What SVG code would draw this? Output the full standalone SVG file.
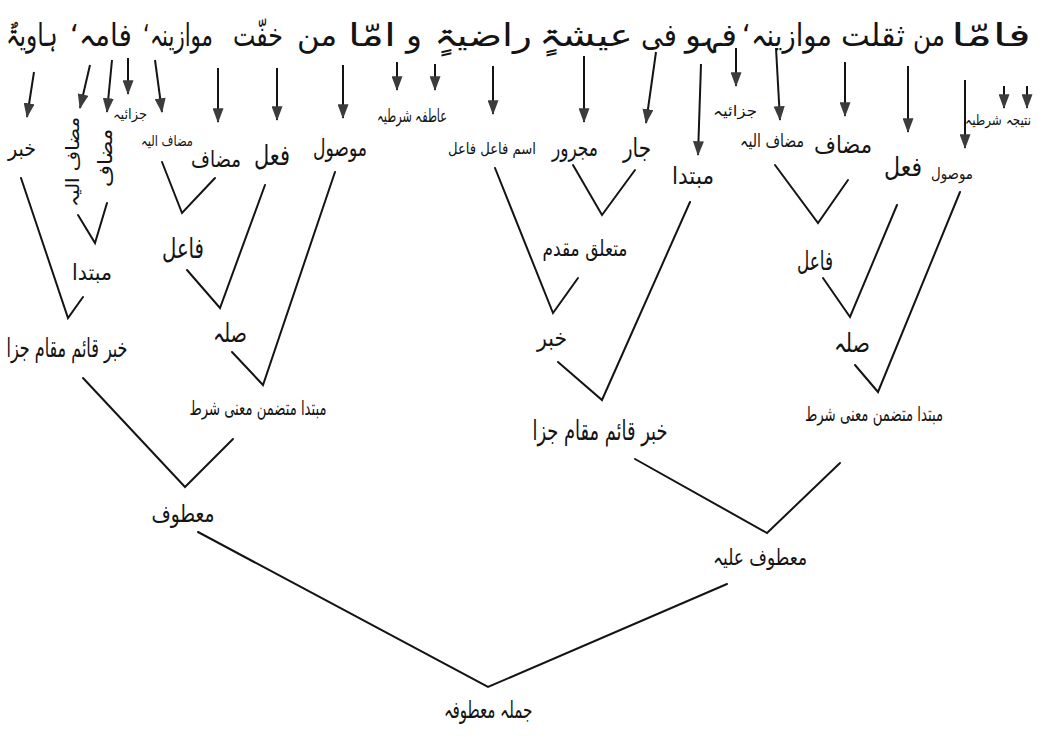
<svg xmlns="http://www.w3.org/2000/svg" width="1049" height="737" viewBox="0 0 1049 737">
<style>
.t{font-family:"DejaVu Sans","Noto Sans",sans-serif;fill:#141414;text-anchor:middle;dominant-baseline:central;direction:rtl;unicode-bidi:embed}
.w{font-size:31px}
.e{stroke:#141414;stroke-width:2;fill:none;stroke-linecap:round}
.a{stroke:#141414;stroke-width:2;fill:none;marker-end:url(#ah)}
</style>
<defs>
<marker id="ah" viewBox="0 0 16 12" refX="15" refY="6" markerWidth="15" markerHeight="11" markerUnits="userSpaceOnUse" orient="auto">
<path d="M0,0 L16,6 L0,12 z" fill="#3c3c3c"/>
</marker>
</defs>
<rect width="1049" height="737" fill="#ffffff"/>

<g id="sentence">
<text class="t w" x="991" y="35" textLength="80" lengthAdjust="spacingAndGlyphs">فامّا</text>
<text class="t w" x="929" y="35" textLength="32" lengthAdjust="spacingAndGlyphs">من</text>
<text class="t w" x="873" y="35" textLength="64" lengthAdjust="spacingAndGlyphs">ثقلت</text>
<text class="t w" x="787" y="35" textLength="90" lengthAdjust="spacingAndGlyphs">موازینہ‘</text>
<text class="t w" x="711" y="35" textLength="52" lengthAdjust="spacingAndGlyphs">فہو</text>
<text class="t w" x="659" y="35" textLength="36" lengthAdjust="spacingAndGlyphs">فی</text>
<text class="t w" x="586" y="35" textLength="94" lengthAdjust="spacingAndGlyphs">عیشۃٍ</text>
<text class="t w" x="483" y="35" textLength="98" lengthAdjust="spacingAndGlyphs">راضیۃٍ</text>
<text class="t w" x="414" y="35" textLength="16" lengthAdjust="spacingAndGlyphs">و</text>
<text class="t w" x="372" y="35" textLength="48" lengthAdjust="spacingAndGlyphs">امّا</text>
<text class="t w" x="317" y="35" textLength="40" lengthAdjust="spacingAndGlyphs" font-size="29">من</text>
<text class="t w" x="258" y="35" textLength="50" lengthAdjust="spacingAndGlyphs" font-size="24">خفّت</text>
<text class="t w" x="178" y="35" textLength="70" lengthAdjust="spacingAndGlyphs" font-size="25">موازینہ‘</text>
<text class="t w" x="101" y="35" textLength="62" lengthAdjust="spacingAndGlyphs">فامہ‘</text>
<text class="t w" x="32" y="35" textLength="52" lengthAdjust="spacingAndGlyphs">ہاویۃٌ</text>
</g>

<g id="connectors">
<line class="a" x1="34" y1="72" x2="27" y2="117"/>
<line class="a" x1="90" y1="65" x2="80" y2="108"/>
<line class="a" x1="112" y1="60" x2="107" y2="112"/>
<line class="a" x1="128" y1="58" x2="128" y2="94"/>
<line class="a" x1="155" y1="60" x2="162" y2="112"/>
<line class="a" x1="218" y1="68" x2="218" y2="122"/>
<line class="a" x1="277" y1="68" x2="277" y2="120"/>
<line class="a" x1="343" y1="65" x2="343" y2="118"/>
<line class="a" x1="397" y1="62" x2="397" y2="90"/>
<line class="a" x1="435" y1="64" x2="435" y2="90"/>
<line class="a" x1="493" y1="66" x2="493" y2="114"/>
<line class="a" x1="584" y1="56" x2="584" y2="122"/>
<line class="a" x1="656" y1="52" x2="646" y2="123"/>
<line class="a" x1="701" y1="64" x2="698" y2="155"/>
<line class="a" x1="736" y1="48" x2="736" y2="86"/>
<line class="a" x1="776" y1="48" x2="780" y2="120"/>
<line class="a" x1="845" y1="62" x2="845" y2="116"/>
<line class="a" x1="908" y1="66" x2="908" y2="132"/>
<line class="a" x1="965" y1="80" x2="965" y2="148"/>
<line class="a" x1="1004" y1="86" x2="1004" y2="108"/>
<line class="a" x1="1027" y1="86" x2="1027" y2="108"/>

<polyline class="e" points="21,178 68,318 83,297"/>
<polyline class="e" points="78,215 95,243 107,203"/>
<polyline class="e" points="162,162 182,213 215,178"/>
<polyline class="e" points="265,185 220,308 187,270"/>
<polyline class="e" points="335,172 263,385 232,352"/>
<polyline class="e" points="83,378 185,487 233,439"/>
<polyline class="e" points="198,532 488,687 727,584"/>
<polyline class="e" points="495,168 553,313 578,278"/>
<polyline class="e" points="573,165 602,215 635,170"/>
<polyline class="e" points="690,202 602,400 558,362"/>
<polyline class="e" points="635,459 767,533 840,463"/>
<polyline class="e" points="775,165 818,223 848,180"/>
<polyline class="e" points="897,205 850,317 823,278"/>
<polyline class="e" points="960,192 878,392 855,365"/>
</g>

<g id="n-khabar1"><text class="t" x="22" y="148" font-size="22" textLength="28" lengthAdjust="spacingAndGlyphs">خبر</text></g>
<g id="n-mudafilayh-v"><text class="t" x="72" y="162" font-size="18" transform="rotate(-90 72 162)" textLength="90" lengthAdjust="spacingAndGlyphs">مضاف الیہ</text></g>
<g id="n-mudaf-v"><text class="t" x="105" y="158" font-size="20" transform="rotate(-90 105 158)" textLength="58" lengthAdjust="spacingAndGlyphs">مضاف</text></g>
<g id="n-jazaiya1"><text class="t" x="130" y="114" font-size="14" textLength="34" lengthAdjust="spacingAndGlyphs">جزائیہ</text></g>
<g id="n-mudafilayh1"><text class="t" x="167" y="141" font-size="15" textLength="52" lengthAdjust="spacingAndGlyphs">مضاف الیہ</text></g>
<g id="n-mudaf1"><text class="t" x="216" y="159" font-size="23" textLength="50" lengthAdjust="spacingAndGlyphs">مضاف</text></g>
<g id="n-fil1"><text class="t" x="272" y="155" font-size="28" textLength="36" lengthAdjust="spacingAndGlyphs">فعل</text></g>
<g id="n-mawsul1"><text class="t" x="340" y="148" font-size="24" textLength="54" lengthAdjust="spacingAndGlyphs">موصول</text></g>
<g id="n-atifa"><text class="t" x="412" y="115" font-size="18" textLength="70" lengthAdjust="spacingAndGlyphs">عاطفہ شرطیہ</text></g>
<g id="n-ismfail"><text class="t" x="492" y="148" font-size="16" textLength="88" lengthAdjust="spacingAndGlyphs">اسم فاعل فاعل</text></g>
<g id="n-majrur"><text class="t" x="575" y="148" font-size="24" textLength="46" lengthAdjust="spacingAndGlyphs">مجرور</text></g>
<g id="n-jar"><text class="t" x="637" y="148" font-size="26" textLength="28" lengthAdjust="spacingAndGlyphs">جار</text></g>
<g id="n-mubtada2"><text class="t" x="693" y="176" font-size="24" textLength="42" lengthAdjust="spacingAndGlyphs">مبتدا</text></g>
<g id="n-jazaiya2"><text class="t" x="735" y="111" font-size="15" textLength="44" lengthAdjust="spacingAndGlyphs">جزائیہ</text></g>
<g id="n-mudafilayh2"><text class="t" x="772" y="140" font-size="18" textLength="64" lengthAdjust="spacingAndGlyphs">مضاف الیہ</text></g>
<g id="n-mudaf2"><text class="t" x="843" y="145" font-size="24" textLength="58" lengthAdjust="spacingAndGlyphs">مضاف</text></g>
<g id="n-fil2"><text class="t" x="903" y="167" font-size="26" textLength="38" lengthAdjust="spacingAndGlyphs">فعل</text></g>
<g id="n-mawsul2"><text class="t" x="952" y="173" font-size="16" textLength="42" lengthAdjust="spacingAndGlyphs">موصول</text></g>
<g id="n-natija"><text class="t" x="998" y="120" font-size="15" textLength="66" lengthAdjust="spacingAndGlyphs">نتیجہ شرطیہ</text></g>

<g id="n-mubtada1"><text class="t" x="92" y="272" font-size="22" textLength="40" lengthAdjust="spacingAndGlyphs">مبتدا</text></g>
<g id="n-fail1"><text class="t" x="183" y="248" font-size="28" textLength="42" lengthAdjust="spacingAndGlyphs">فاعل</text></g>
<g id="n-mutaalliq"><text class="t" x="585" y="248" font-size="22" textLength="85" lengthAdjust="spacingAndGlyphs">متعلق مقدم</text></g>
<g id="n-fail2"><text class="t" x="815" y="261" font-size="26" textLength="36" lengthAdjust="spacingAndGlyphs">فاعل</text></g>
<g id="n-khabarjaza1"><text class="t" x="67" y="348" font-size="26" textLength="121" lengthAdjust="spacingAndGlyphs">خبر قائم مقام جزا</text></g>
<g id="n-sila1"><text class="t" x="230" y="333" font-size="26" textLength="34" lengthAdjust="spacingAndGlyphs">صلہ</text></g>
<g id="n-khabar2"><text class="t" x="552" y="338" font-size="24" textLength="30" lengthAdjust="spacingAndGlyphs">خبر</text></g>
<g id="n-sila2"><text class="t" x="852" y="343" font-size="26" textLength="36" lengthAdjust="spacingAndGlyphs">صلہ</text></g>
<g id="n-mubtadashart1"><text class="t" x="258" y="408" font-size="20" textLength="137" lengthAdjust="spacingAndGlyphs">مبتدا متضمن معنی شرط</text></g>
<g id="n-khabarjaza2"><text class="t" x="600" y="430" font-size="27" textLength="135" lengthAdjust="spacingAndGlyphs">خبر قائم مقام جزا</text></g>
<g id="n-mubtadashart2"><text class="t" x="874" y="414" font-size="20" textLength="138" lengthAdjust="spacingAndGlyphs">مبتدا متضمن معنی شرط</text></g>
<g id="n-matuf"><text class="t" x="183" y="514" font-size="24" textLength="63" lengthAdjust="spacingAndGlyphs">معطوف</text></g>
<g id="n-matufalayh"><text class="t" x="760" y="557" font-size="22" textLength="94" lengthAdjust="spacingAndGlyphs">معطوف علیہ</text></g>
<g id="n-jumla"><text class="t" x="488" y="710" font-size="24" textLength="89" lengthAdjust="spacingAndGlyphs">جملہ معطوفہ</text></g>
</svg>
